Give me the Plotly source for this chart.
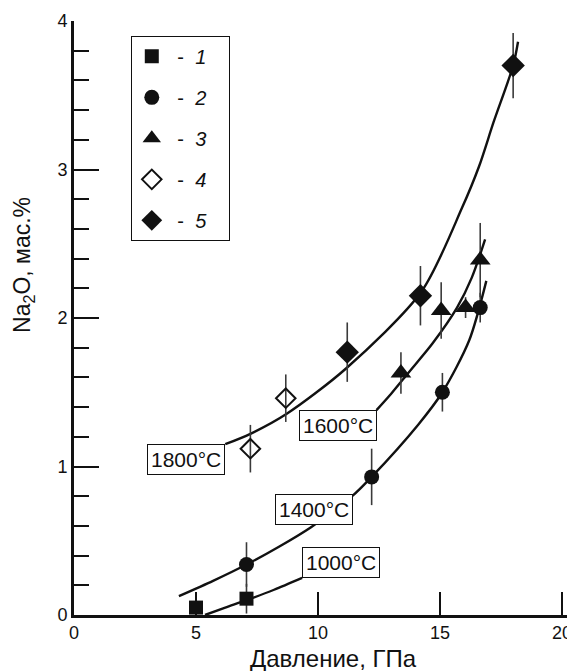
import plotly.graph_objects as go

# ---- data ----
# 1: squares
s1_x = [5.0, 7.07]
s1_y = [0.05, 0.11]
s1_e = [0.10, 0.10]
# 2: circles
s2_x = [7.07, 12.2, 15.1, 16.65]
s2_y = [0.34, 0.93, 1.50, 2.07]
s2_e = [0.15, 0.19, 0.13, 0.10]
# 3: triangles
s3_x = [13.4, 15.05, 16.05, 16.65]
s3_y = [1.63, 2.05, 2.07, 2.39]
s3_e = [0.14, 0.19, 0.07, 0.25]
# 4: open diamonds
s4_x = [7.23, 8.68]
s4_y = [1.12, 1.46]
s4_e = [0.16, 0.16]
# 5: filled diamonds
s5_x = [11.2, 14.2, 18.0]
s5_y = [1.77, 2.15, 3.70]
s5_e = [0.20, 0.20, 0.22]

# fitted curves
c1000_x = [5.37, 6.2, 7.07, 8.2, 9.35]
c1000_y = [0.00, 0.05, 0.10, 0.17, 0.25]
c1400_x = [4.3, 5.7, 7.07, 8.4, 9.7, 11.4, 12.2, 14.1, 15.1, 16.2, 16.9]
c1400_y = [0.127, 0.23, 0.34, 0.46, 0.59, 0.80, 0.93, 1.28, 1.50, 1.85, 2.25]
c1600_x = [12.4, 13.0, 13.7, 14.7, 15.7, 16.3, 16.85]
c1600_y = [1.38, 1.49, 1.63, 1.83, 2.07, 2.27, 2.53]
c1800_x = [6.2, 7.23, 8.72, 11.15, 14.25, 15.9, 16.6, 17.2, 18.0, 18.2]
c1800_y = [1.15, 1.22, 1.355, 1.66, 2.18, 2.74, 3.02, 3.32, 3.70, 3.86]

curve_labels = ["1000°C", "1400°C", "1600°C", "1800°C"]
legend_labels = ["1", "2", "3", "4", "5"]
x_ticks = [0, 5, 10, 15, 20]
y_ticks = [0, 1, 2, 3, 4]
x_title = "Давление, ГПа"
y_title = "Na<sub>2</sub>O, мас.%"

FONT = "Arial, Liberation Sans, sans-serif"
INK = "#111111"
EBAR = "#3a3a3a"

fig = go.Figure()

for cx, cy in [(c1000_x, c1000_y), (c1400_x, c1400_y), (c1600_x, c1600_y), (c1800_x, c1800_y)]:
    fig.add_trace(go.Scatter(x=cx, y=cy, mode="lines", line=dict(color=INK, width=2.4, shape="spline", smoothing=0.8),
                             showlegend=False, hoverinfo="skip"))

series = [
    (s1_x, s1_y, s1_e, dict(symbol="square", size=14, color=INK)),
    (s2_x, s2_y, s2_e, dict(symbol="circle", size=15, color=INK)),
    (s3_x, s3_y, s3_e, dict(symbol="triangle-up", size=18, color=INK)),
    (s4_x, s4_y, s4_e, dict(symbol="diamond-open", size=15, color=INK, line=dict(width=2, color=INK))),
    (s5_x, s5_y, s5_e, dict(symbol="diamond", size=18, color=INK)),
]
for i, (sx, sy, se, mk) in enumerate(series):
    fig.add_trace(go.Scatter(
        x=sx, y=sy, mode="markers", marker=mk,
        error_y=dict(type="data", array=se, visible=True, color=EBAR, thickness=1.6, width=0),
        name="&nbsp;- &nbsp;<i>" + legend_labels[i] + "</i>&nbsp;&nbsp;&nbsp;",
        legendgroup="g" + str(i),
    ))

box = dict(font=dict(family=FONT, size=21, color=INK), bgcolor="white", bordercolor=INK,
           borderwidth=1, borderpad=3, showarrow=False, xref="x", yref="y")
fig.add_annotation(x=c1000_x[-1], y=c1000_y[-1], text=curve_labels[0], xanchor="left", yanchor="bottom", **box)
fig.add_annotation(x=9.85, y=0.71, text=curve_labels[1], xanchor="center", yanchor="middle", **box)
fig.add_annotation(x=c1600_x[0], y=c1600_y[0], text=curve_labels[2], xanchor="right", yanchor="top", **box)
fig.add_annotation(x=c1800_x[0], y=c1800_y[0], text=curve_labels[3], xanchor="right", yanchor="top", **box)

# axis titles
fig.add_annotation(text=x_title, xref="paper", yref="paper", x=0.524, y=-0.0736,
                   xanchor="center", yanchor="middle", showarrow=False,
                   font=dict(family=FONT, size=24, color=INK))
fig.add_annotation(text=y_title, xref="paper", yref="paper", x=-0.102, y=0.59,
                   xanchor="center", yanchor="middle", showarrow=False, textangle=-90,
                   font=dict(family=FONT, size=23, color=INK))

fig.update_layout(
    width=567, height=663,
    margin=dict(l=66, r=3, t=9, b=56),
    paper_bgcolor="white", plot_bgcolor="white",
    font=dict(family=FONT, color=INK),
    showlegend=True,
    legend=dict(x=0.1145, y=0.975, xanchor="left", yanchor="top",
                bordercolor=INK, borderwidth=1, bgcolor="white",
                font=dict(family=FONT, size=20, color=INK),
                tracegroupgap=12, itemsizing="trace"),
    xaxis=dict(range=[0, 20.33], tickvals=x_ticks, ticktext=[str(v) for v in x_ticks],
               ticks="inside", ticklen=23, tickwidth=2.4, tickcolor=INK,
               showline=True, linewidth=2.6, linecolor=INK, showgrid=False, zeroline=False,
               ticklabeloverflow="allow",
               tickfont=dict(family=FONT, size=18, color=INK)),
    yaxis=dict(range=[0, 4], tickvals=y_ticks, ticktext=[str(v) for v in y_ticks],
               ticks="inside", ticklen=25, tickwidth=2.4, tickcolor=INK,
               minor=dict(dtick=0.2, ticks="inside", ticklen=15, tickwidth=2.4, tickcolor=INK, showgrid=False),
               showline=True, linewidth=2.6, linecolor=INK, showgrid=False, zeroline=False,
               ticklabeloverflow="allow",
               tickfont=dict(family=FONT, size=18, color=INK)),
)

fig.write_html("out.html")
